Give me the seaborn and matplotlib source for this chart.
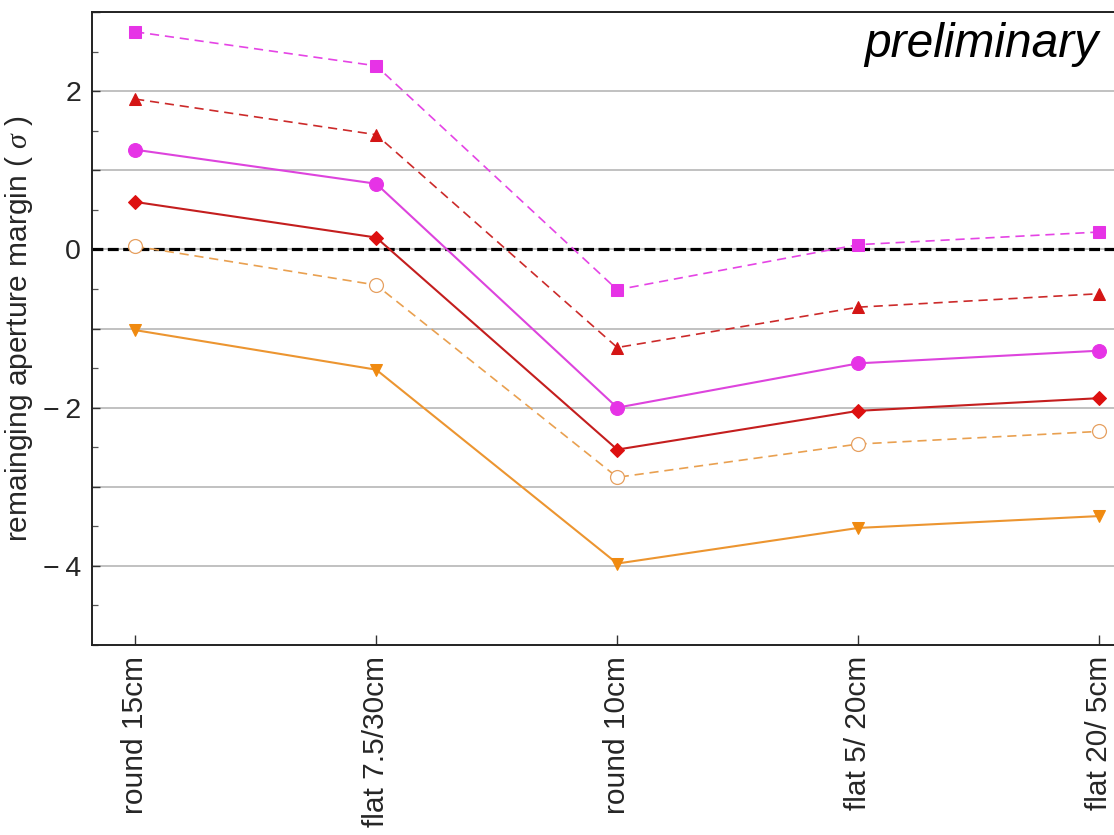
import matplotlib
matplotlib.use("Agg")
import matplotlib.pyplot as plt
from matplotlib.ticker import FixedLocator, MultipleLocator, FuncFormatter
import seaborn as sns

# Beam-screen geometries on the x axis
categories = ["round 15cm", "flat 7.5/30cm", "round 10cm", "flat 5/ 20cm", "flat 20/ 5cm"]

# Remaining aperture margin (in sigma) for each scenario
margin_square = [2.75, 2.32, -0.51, 0.06, 0.22]
margin_triangle_up = [1.90, 1.45, -1.24, -0.73, -0.56]
margin_circle = [1.26, 0.83, -2.00, -1.44, -1.28]
margin_diamond = [0.60, 0.15, -2.53, -2.04, -1.88]
margin_open_circle = [0.04, -0.45, -2.88, -2.46, -2.30]
margin_triangle_down = [-1.02, -1.52, -3.97, -3.52, -3.37]

yticks_major = [-4, -3, -2, -1, 0, 1, 2, 3]
ytick_labels = {2: "2", 0: "0", -2: "\u2212\u20092", -4: "\u2212\u20094"}

sns.set_theme(style="white")
plt.rcParams["font.family"] = ["Liberation Sans", "DejaVu Sans"]
plt.rcParams["mathtext.fontset"] = "custom"
plt.rcParams["mathtext.it"] = "Liberation Serif:italic"

fig = plt.figure(figsize=(11.14, 8.35), dpi=100)
ax = fig.add_axes([0.0826, 0.2275, 0.9174 + 0.002, 0.7581])

x = list(range(len(categories)))

dash = (0, (5.5, 3.5))
series = [
    (margin_square, dict(color="#e544e5", linestyle=dash, linewidth=1.2,
                         marker="s", markersize=8.5, markerfacecolor="#e633e6",
                         markeredgecolor="#e633e6")),
    (margin_triangle_up, dict(color="#cc2a2a", linestyle=dash, linewidth=1.2,
                              marker="^", markersize=9, markerfacecolor="#d41515",
                              markeredgecolor="#d41515")),
    (margin_circle, dict(color="#dd44dd", linestyle="-", linewidth=1.5,
                         marker="o", markersize=10, markerfacecolor="#e633e6",
                         markeredgecolor="#e633e6")),
    (margin_diamond, dict(color="#c41e1e", linestyle="-", linewidth=1.5,
                          marker="D", markersize=7.5, markerfacecolor="#dd1010",
                          markeredgecolor="#dd1010")),
    (margin_open_circle, dict(color="#e9a050", linestyle=dash, linewidth=1.2,
                              marker="o", markersize=10, markerfacecolor="white",
                              markeredgecolor="#e6a060", markeredgewidth=0.9)),
    (margin_triangle_down, dict(color="#ec9530", linestyle="-", linewidth=1.5,
                                marker="v", markersize=9, markerfacecolor="#f08a10",
                                markeredgecolor="#f08a10")),
]

for values, style in series:
    sns.lineplot(x=x, y=values, ax=ax, sort=False, zorder=3, **style)

# reference line at zero margin
ax.axhline(0, color="black", linewidth=2.3, linestyle=(0, (3.4, 1.4)), zorder=2)

ax.set_xlim(-0.179, 4.07)
ax.set_ylim(-5, 3)

ax.xaxis.set_major_locator(FixedLocator(x))
ax.set_xticklabels(categories, rotation=90, fontsize=21.5)

ax.yaxis.set_major_locator(FixedLocator(yticks_major))
ax.yaxis.set_minor_locator(MultipleLocator(0.5))
ax.yaxis.set_major_formatter(FuncFormatter(lambda v, pos: ytick_labels.get(int(round(v)), "")))
ax.tick_params(axis="y", which="major", direction="in", length=6, width=1.0,
               labelsize=20.5, pad=8, left=True, color="#333333")
ax.tick_params(axis="y", which="minor", direction="in", length=4, width=0.9,
               left=True, color="#555555")
ax.tick_params(axis="x", which="major", direction="in", length=7, width=1.0,
               labelsize=21.5, pad=8, bottom=True, color="#333333")

ax.grid(axis="y", which="major", color="#b0b0b0", linewidth=1.1, zorder=1)
ax.grid(axis="x", visible=False)
ax.set_axisbelow(True)

for side in ["left", "bottom", "top"]:
    ax.spines[side].set_visible(True)
    ax.spines[side].set_color("#222222")
    ax.spines[side].set_linewidth(1.4)
ax.spines["right"].set_visible(False)

ax.set_ylabel(r"remainging aperture margin ( $\sigma$ )", fontsize=21.5)
ax.yaxis.set_label_coords(-0.056, 0.5)
ax.set_xlabel("")

ax.text(0.983, 0.985, "preliminary", transform=ax.transAxes, ha="right", va="top",
        fontsize=34.5, style="italic", color="black")

fig.savefig("out.png", dpi=100)
